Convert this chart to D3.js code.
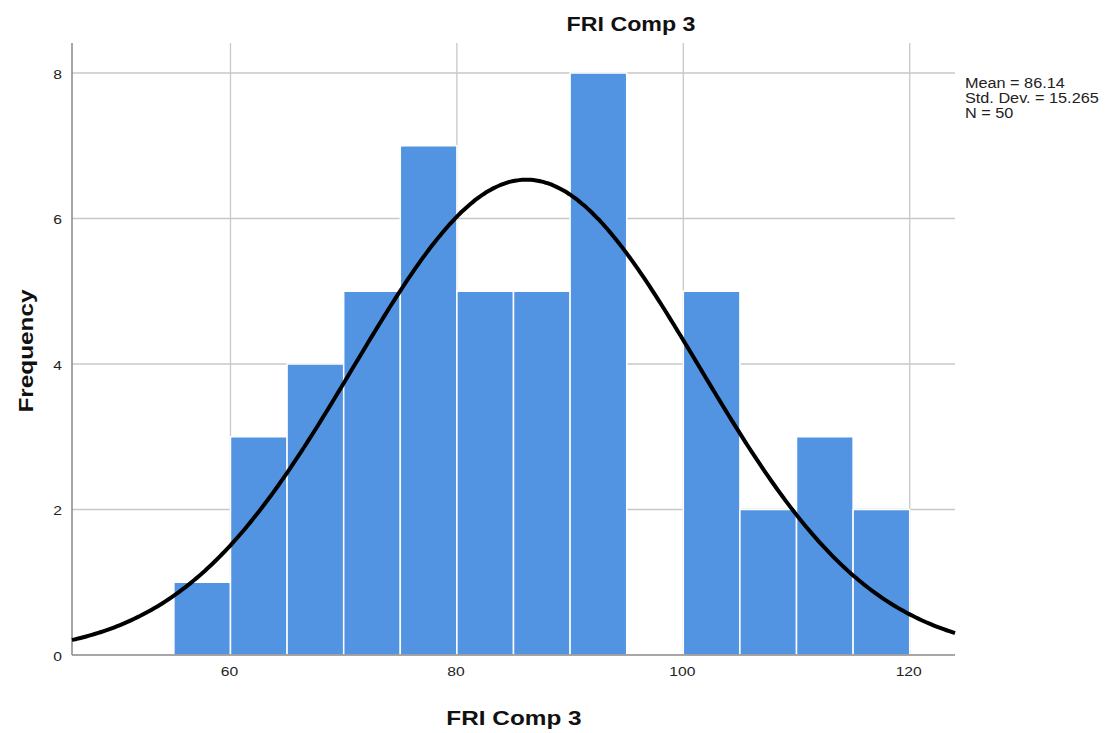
<!DOCTYPE html>
<html><head><meta charset="utf-8">
<script src="https://cdn.jsdelivr.net/npm/d3@7"></script>
<style>body{margin:0;background:#fff;}svg text{font-family:"Liberation Sans",Arial,sans-serif;}</style>
</head><body>
<svg id="c" width="1110" height="733"></svg>
<script>
const binStarts = [55,60,65,70,75,80,85,90,95,100,105,110,115];
const binWidth = 5;
const counts = [1,3,4,5,7,5,5,8,0,5,2,3,2];
const xTicks = [60,80,100,120];
const yTicks = [0,2,4,6,8];
const mean = 86.14, sd = 15.265, n = 50;
const statsLines = ["Mean = 86.14","Std. Dev. = 15.265","N = 50"];

(function(){
const svg = d3.select("#c");
const SX = 1.16;
const pL=72, pR=955, pT=43, pB=655;
const x = d3.scaleLinear().domain([46,124]).range([pL,pR]);
const y = d3.scaleLinear().domain([0,8]).range([pB,73]);

// grid
svg.append("g").selectAll("line").data(yTicks.filter(d=>d>0)).join("line")
  .attr("x1",pL).attr("x2",pR).attr("y1",d=>y(d)).attr("y2",d=>y(d))
  .attr("stroke","#c8c8c8").attr("stroke-width",1.3);
svg.append("g").selectAll("line").data(xTicks).join("line")
  .attr("x1",d=>x(d)).attr("x2",d=>x(d)).attr("y1",pT).attr("y2",pB)
  .attr("stroke","#c8c8c8").attr("stroke-width",1.3);

// bars
svg.append("g").selectAll("rect").data(binStarts.map((s,i)=>({s,c:counts[i]})).filter(d=>d.c>0)).join("rect")
  .attr("x",d=>x(d.s)).attr("width",d=>x(d.s+binWidth)-x(d.s))
  .attr("y",d=>y(d.c)).attr("height",d=>y(0)-y(d.c))
  .attr("fill","#5294e2").attr("stroke","#ffffff").attr("stroke-width",1.5);

// axes lines
svg.append("line").attr("x1",pL).attr("x2",pL).attr("y1",pT).attr("y2",pB).attr("stroke","#888").attr("stroke-width",1.5);
svg.append("line").attr("x1",pL).attr("x2",pR).attr("y1",pB).attr("y2",pB).attr("stroke","#888").attr("stroke-width",1.5);

// tick labels
const xAxis = d3.axisBottom(x).tickValues(xTicks).tickSize(0).tickPadding(11);
const gx = svg.append("g").attr("transform",`translate(0,${pB})`).call(xAxis);
gx.select(".domain").remove();
gx.selectAll("text").attr("font-size",13.5).attr("fill","#222")
  .attr("x",-1.5/SX).attr("transform",`scale(${SX},1)`)
  .style("font-family","'Liberation Sans',Arial,sans-serif");
const yAxis = d3.axisLeft(y).tickValues(yTicks).tickSize(0).tickPadding(10);
const gy = svg.append("g").attr("transform",`translate(${pL},0)`).call(yAxis);
gy.select(".domain").remove();
gy.selectAll("text").attr("font-size",13.5).attr("fill","#222")
  .attr("x",-10/SX).attr("dy","0.4em").attr("transform",`scale(${SX},1)`)
  .style("font-family","'Liberation Sans',Arial,sans-serif");

// normal curve
const k = n*binWidth/(sd*Math.sqrt(2*Math.PI));
const pts = d3.range(46,124.01,0.25).map(v=>[v,k*Math.exp(-0.5*((v-mean)/sd)**2)]);
svg.append("path").datum(pts)
  .attr("d",d3.line().x(d=>x(d[0])).y(d=>y(d[1])).curve(d3.curveBasis))
  .attr("fill","none").attr("stroke","#000").attr("stroke-width",4);

// titles
svg.append("text").attr("transform",`translate(631,31) scale(${SX},1)`).attr("text-anchor","middle")
  .attr("font-size",20).attr("font-weight","bold").attr("fill","#111").text("FRI Comp 3");
svg.append("text").attr("transform",`translate(514,725) scale(${SX},1)`).attr("text-anchor","middle")
  .attr("font-size",21).attr("font-weight","bold").attr("fill","#111").text("FRI Comp 3");
svg.append("text").attr("transform",`translate(33,351) rotate(-90) scale(${SX},1)`).attr("text-anchor","middle")
  .attr("font-size",21).attr("font-weight","bold").attr("fill","#111").text("Frequency");

svg.append("g").selectAll("text").data(statsLines).join("text")
  .attr("transform",(d,i)=>`translate(965,${88+i*15}) scale(${SX},1)`)
  .attr("font-size",14).attr("fill","#222").text(d=>d);
})();
</script>
</body></html>
